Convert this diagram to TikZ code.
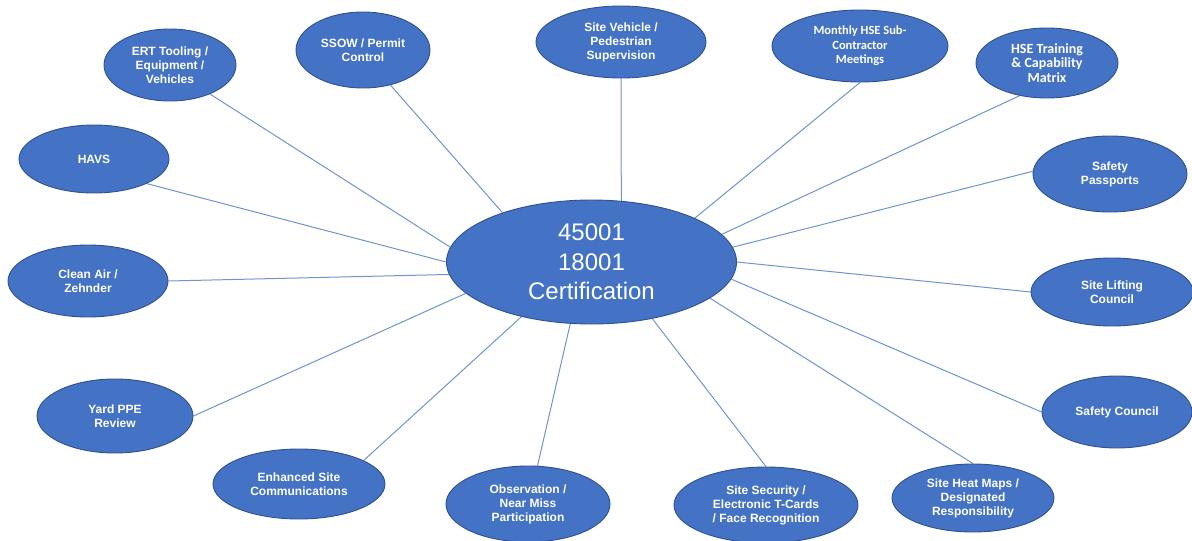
\documentclass[tikz,border=0pt]{standalone}
\usepackage{fontspec}
\setmainfont{Liberation Sans}
\newfontfamily\calibrifont{Carlito}
\usetikzlibrary{shapes.geometric,backgrounds}
\definecolor{nodefill}{HTML}{4472C4}
\definecolor{nodeedge}{HTML}{2F528F}
\definecolor{linkcol}{HTML}{6F93D3}
\tikzset{
  bubble/.style={ellipse, fill=nodefill, draw=nodeedge, line width=0.9pt, text=white,
    font=\bfseries\fontsize{12}{14}\selectfont, align=center, inner sep=0pt},
  calbubble/.style={bubble, font=\calibrifont\bfseries\fontsize{12.5}{14.5}\selectfont},
  hub/.style={bubble, font=\fontsize{24}{29.5}\selectfont},
  link/.style={draw=linkcol, line width=1pt}
}
\begin{document}
\begin{tikzpicture}[x=1pt,y=-1pt]
\useasboundingbox (0,0) rectangle (1192,541);
\node[hub, minimum width=290pt, minimum height=124pt] (c) at (591.5,262) {45001\\18001\\Certification};
\node[bubble, minimum width=132pt, minimum height=72pt] (ert) at (170,65) {ERT Tooling /\\Equipment /\\Vehicles};
\node[bubble, minimum width=134pt, minimum height=76pt] (ssow) at (363,50) {SSOW / Permit\\Control};
\node[bubble, minimum width=170pt, minimum height=72pt] (veh) at (621,42) {Site Vehicle /\\Pedestrian\\Supervision};
\node[calbubble, minimum width=176pt, minimum height=72pt] (mon) at (860,46) {Monthly HSE Sub-\\Contractor\\Meetings};
\node[calbubble, minimum width=142pt, minimum height=70pt, font=\calibrifont\bfseries\fontsize{14}{14.5}\selectfont] (hse) at (1047,63) {HSE Training\\\& Capability\\Matrix};
\node[bubble, minimum width=150pt, minimum height=68pt] (havs) at (94,159) {HAVS};
\node[bubble, minimum width=154pt, minimum height=76pt] (pass) at (1110,174) {Safety\\Passports};
\node[bubble, minimum width=160pt, minimum height=72pt] (clean) at (88,281) {Clean Air /\\Zehnder};
\node[bubble, minimum width=162pt, minimum height=68pt] (lift) at (1112,292) {Site Lifting\\Council};
\node[bubble, minimum width=156pt, minimum height=74pt] (yard) at (115,416) {Yard PPE\\Review};
\node[bubble, minimum width=150pt, minimum height=72pt] (council) at (1117,412) {Safety Council};
\node[bubble, minimum width=172pt, minimum height=70pt] (enh) at (299,484) {Enhanced Site\\Communications};
\node[bubble, minimum width=164pt, minimum height=76pt] (obs) at (528,504) {Observation /\\Near Miss\\Participation};
\node[bubble, minimum width=184pt, minimum height=76pt] (sec) at (766,505) {Site Security /\\Electronic T-Cards\\/ Face Recognition};
\node[bubble, minimum width=162pt, minimum height=68pt] (heat) at (973,498) {Site Heat Maps /\\Designated\\Responsibility};
\begin{scope}[on background layer]
\draw[link] (c.174) -- (ert.-36);
\draw[link] (c.151) -- (ssow.-52);
\draw[link] (c.64.6) -- (veh.-90);
\draw[link] (c.23) -- (mon.-90);
\draw[link] (c.12.8) -- (hse.230);
\draw[link] (c.180) -- (havs.-25.7);
\draw[link] (c.6) -- (pass.178.5);
\draw[link] (c.185.6) -- (clean.0);
\draw[link] (c.0) -- (lift.180);
\draw[link] (c.194.8) -- (yard.0);
\draw[link] (c.353.9) -- (council.180);
\draw[link] (c.218.7) -- (enh.20.9);
\draw[link] (c.251.8) -- (obs.76.7);
\draw[link] (c.317) -- (sec.90);
\draw[link] (c.343.5) -- (heat.90);
\end{scope}
\end{tikzpicture}
\end{document}
